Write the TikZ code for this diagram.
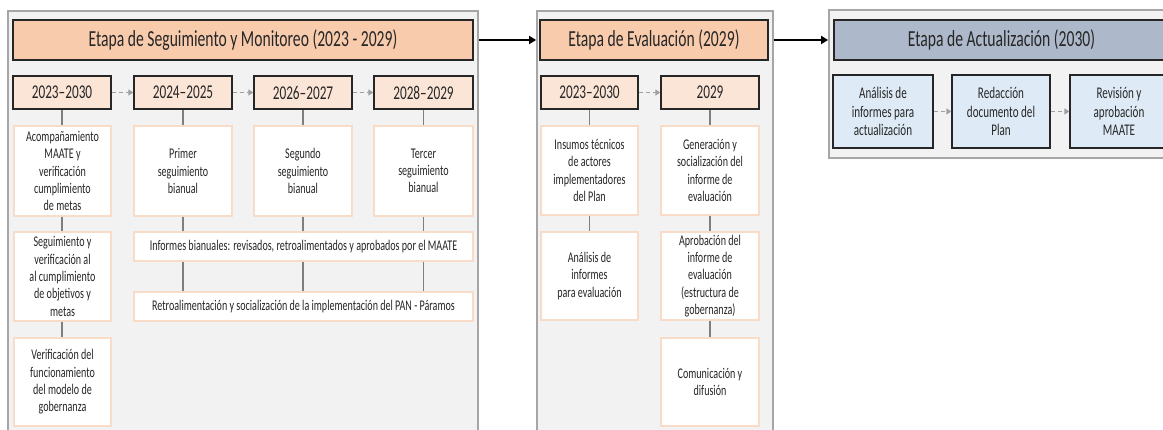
\documentclass[tikz,border=0pt]{standalone}
\usepackage{fontspec}
\setmainfont{Carlito}[FakeStretch=0.68]
\usetikzlibrary{arrows.meta}
\definecolor{panelbg}{HTML}{F2F2F2}
\definecolor{panelline}{HTML}{A6A6A6}
\definecolor{peach}{HTML}{F8CBAD}
\definecolor{lightpeach}{HTML}{FBE5D6}
\definecolor{peachline}{HTML}{F9DCC8}
\definecolor{bluegray}{HTML}{ADB9CA}
\definecolor{lightblue}{HTML}{DEEBF7}
\definecolor{darkline}{HTML}{262626}
\definecolor{linkgray}{HTML}{7F7F7F}
\definecolor{dashgray}{HTML}{A0A0A0}
\definecolor{txt}{HTML}{262626}
\tikzset{
  panel/.style={draw=panelline, fill=panelbg, line width=1.8pt, inner sep=0pt},
  hdr/.style={draw=darkline, fill=peach, line width=1.2pt, text=txt, font=\fontsize{23}{27}\selectfont, inner sep=0pt},
  bhdr/.style={hdr, fill=bluegray},
  subhdr/.style={draw=darkline, fill=lightpeach, line width=1.2pt, text=txt, font=\fontsize{19.5}{23}\selectfont, minimum height=33pt, inner sep=0pt},
  cbox/.style={draw=peachline, fill=white, line width=1.2pt, text=txt, align=center, font=\fontsize{14.8}{17.3}\selectfont, inner sep=0pt},
  bbox/.style={draw=darkline, fill=lightblue, line width=1.2pt, text=txt, align=center, font=\fontsize{16.3}{18.5}\selectfont, minimum height=73pt, inner sep=0pt},
  link/.style={draw=linkgray, line width=1.5pt},
  dasharrow/.style={draw=dashgray, line width=1.5pt, dash pattern=on 4pt off 3pt, -{Triangle[width=6pt,length=5pt]}},
  mainarrow/.style={draw=black, line width=1.8pt, -{Triangle[width=8pt,length=7pt]}}
}
\begin{document}
\begin{tikzpicture}[x=1pt,y=-1pt]
\useasboundingbox (0,0) rectangle (1163,430);
\clip (0,0) rectangle (1163,430);
\fill[white] (0,0) rectangle (1163,430);

% ---------- Panel 1 ----------
\node[panel, minimum width=470pt, minimum height=429pt] (p1) at (243,225.5) {};
\node[hdr, minimum width=460pt, minimum height=40pt] (h1) at (243,40) {Etapa de Seguimiento y Monitoreo (2023 - 2029)};
\node[subhdr, minimum width=98pt] (s11) at (62,92.5) {2023–2030};
\node[subhdr, minimum width=98pt] (s12) at (183,92.5) {2024–2025};
\node[subhdr, minimum width=98pt] (s13) at (303,92.5) {2026–2027};
\node[subhdr, minimum width=99pt] (s14) at (423.5,92.5) {2028–2029};
\node[cbox, minimum width=97pt, minimum height=90pt] (a1) at (62.5,171) {Acompañamiento\\MAATE y\\verificación\\cumplimiento\\de metas};
\node[cbox, minimum width=97pt, minimum height=89pt] (a2) at (62.5,276.5) {Seguimiento y\\verificación al\\al cumplimiento\\de objetivos y\\metas};
\node[cbox, minimum width=97pt, minimum height=88pt] (a3) at (62.5,382) {Verificación del\\funcionamiento\\del modelo de\\gobernanza};
\node[cbox, minimum width=98pt, minimum height=90pt] (b2) at (183,171) {Primer\\seguimiento\\bianual};
\node[cbox, minimum width=98pt, minimum height=90pt] (b3) at (303,171) {Segundo\\seguimiento\\bianual};
\node[cbox, minimum width=99pt, minimum height=90pt] (b4) at (423.5,171) {Tercer\\seguimiento\\bianual};
\node[cbox, minimum width=339pt, minimum height=29pt] (inf) at (303.5,246.5) {Informes bianuales: revisados, retroalimentados y aprobados por el MAATE};
\node[cbox, minimum width=339pt, minimum height=29pt] (ret) at (303.5,306.5) {Retroalimentación y socialización de la implementación del PAN - Páramos};

\draw[dasharrow] (s11.east) -- (s12.west);
\draw[dasharrow] (s12.east) -- (s13.west);
\draw[dasharrow] (s13.east) -- (s14.west);

\draw[link] (s11.south) -- (s11.south |- a1.north);
\draw[link] (s11.south |- a1.south) -- (s11.south |- a2.north);
\draw[link] (s11.south |- a2.south) -- (s11.south |- a3.north);
\foreach \c/\b in {s12/b2, s13/b3, s14/b4}{
  \draw[link] (\c.south) -- (\c.south |- \b.north);
  \draw[link] (\c.south |- \b.south) -- (\c.south |- inf.north);
  \draw[link] (\c.south |- inf.south) -- (\c.south |- ret.north);
}

% ---------- Panel 2 ----------
\node[panel, minimum width=236pt, minimum height=429pt] (p2) at (655,225.5) {};
\node[hdr, minimum width=228pt, minimum height=40pt] (h2) at (654,40) {Etapa de Evaluación (2029)};
\node[subhdr, minimum width=97pt] (s21) at (589.5,92.5) {2023–2030};
\node[subhdr, minimum width=98pt] (s22) at (710,92.5) {2029};
\node[cbox, minimum width=97pt, minimum height=89pt] (c21) at (589.5,170.5) {Insumos técnicos\\de actores\\implementadores\\del Plan};
\node[cbox, minimum width=98pt, minimum height=89pt] (c22) at (710,170.5) {Generación y\\socialización del\\informe de\\evaluación};
\node[cbox, minimum width=97pt, minimum height=88pt] (c23) at (589.5,276) {Análisis de\\informes\\para evaluación};
\node[cbox, minimum width=98pt, minimum height=88pt] (c24) at (710,276) {Aprobación del\\informe de\\evaluación\\(estructura de\\gobernanza)};
\node[cbox, minimum width=98pt, minimum height=88pt] (c25) at (710,382) {Comunicación y\\difusión};

\draw[dasharrow] (s21.east) -- (s22.west);
\draw[link] (s21.south) -- (s21.south |- c21.north);
\draw[link] (s21.south |- c21.south) -- (s21.south |- c23.north);
\draw[link] (s22.south) -- (s22.south |- c22.north);
\draw[link] (s22.south |- c22.south) -- (s22.south |- c24.north);
\draw[link] (s22.south |- c24.south) -- (s22.south |- c25.north);

% ---------- Panel 3 ----------
\node[panel, minimum width=346pt, minimum height=148pt] (p3) at (1002,84) {};
\node[bhdr, minimum width=335pt, minimum height=40pt] (h3) at (1001.5,40) {Etapa de Actualización (2030)};
\node[bbox, minimum width=100pt] (d1) at (883,111.5) {Análisis de\\informes para\\actualización};
\node[bbox, minimum width=98pt] (d2) at (1001,111.5) {Redacción\\documento del\\Plan};
\node[bbox, minimum width=98pt] (d3) at (1119,111.5) {Revisión y\\aprobación\\MAATE};
\draw[dasharrow] (d1.east) -- (d2.west);
\draw[dasharrow] (d2.east) -- (d3.west);

% ---------- Stage arrows ----------
\draw[mainarrow] (p1.east |- h1.east) -- (p2.west |- h2.west);
\draw[mainarrow] (p2.east |- h2.east) -- (p3.west |- h3.west);
\end{tikzpicture}
\end{document}
